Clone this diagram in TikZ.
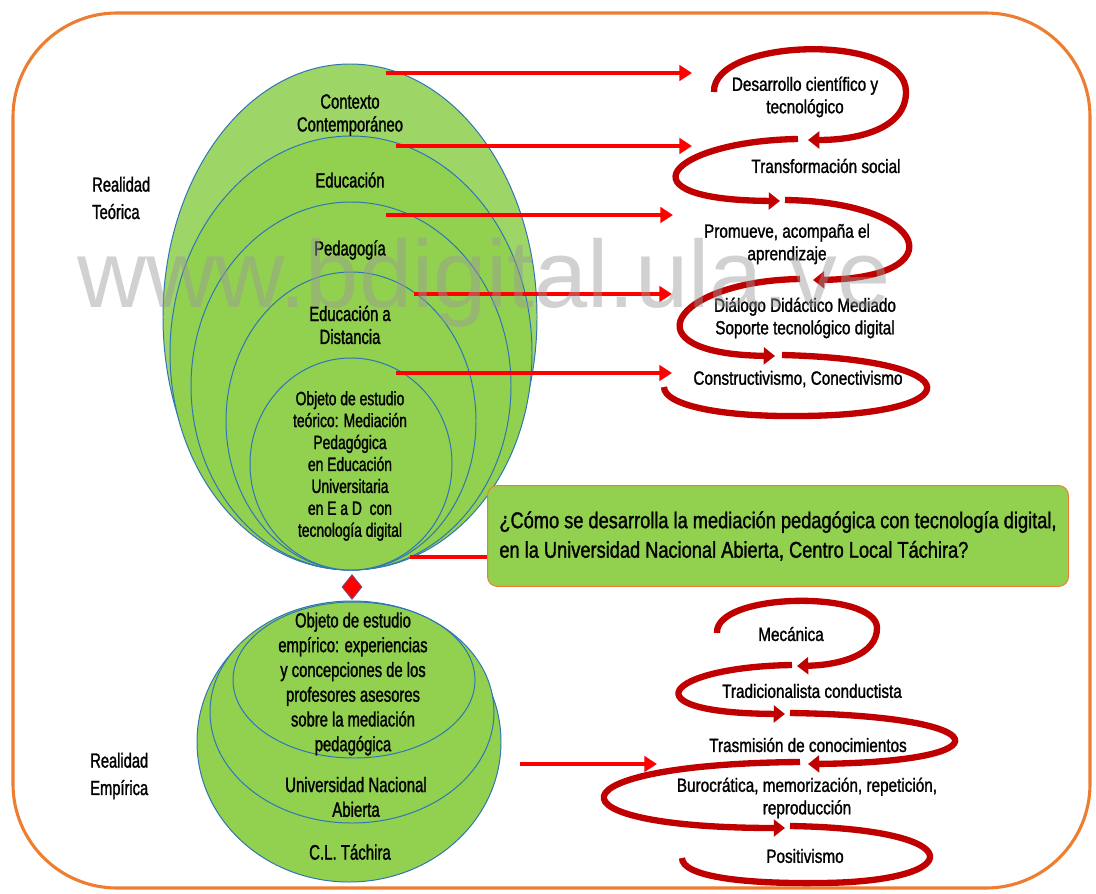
\documentclass[tikz,border=0pt]{standalone}
\usepackage{fontspec}
\setmainfont{Liberation Sans}[FakeStretch=0.72, FakeBold=1.3]
\newfontfamily\coilfont{Liberation Sans}[FakeStretch=0.8, FakeBold=1.3]
\newfontfamily\markfont{Liberation Sans}
\usetikzlibrary{arrows.meta}
\usetikzlibrary{shapes.geometric}

\definecolor{leafgreen}{HTML}{92D050}
\definecolor{paleleaf}{HTML}{9DD567}
\definecolor{ringblue}{HTML}{2E75B6}
\definecolor{frameorange}{HTML}{ED7D31}
\definecolor{spiralred}{HTML}{C00000}

\begin{document}
\begin{tikzpicture}[x=0.025cm, y=-0.025cm,
  ring/.style={fill=leafgreen, draw=ringblue, line width=0.7pt},
  txt/.style={align=center, inner sep=0pt, font=\fontsize{14.6}{16.3}\selectfont},
  coiltxt/.style={align=center, inner sep=0pt, font=\coilfont\fontsize{13.6}{16}\selectfont},
  side/.style={align=left, anchor=west, inner sep=0pt, font=\fontsize{14.5}{19.5}\selectfont},
  link/.style={draw=red, line width=2.8pt, -{Triangle[length=9pt, width=11pt]}},
  coil/.style={draw=spiralred, line width=4.5pt, -{Triangle[length=8pt, width=12pt]}},
  coilend/.style={draw=spiralred, line width=4.5pt},
]
\useasboundingbox (0,0) rectangle (1096,893);

% frame
\draw[frameorange, line width=2.2pt, rounded corners=2.6cm] (13,13) rectangle (1090,888);

% realidad teorica
\draw[ring, fill=paleleaf] (350,317) ellipse [x radius=187, y radius=253];
\draw[ring] (351,353) ellipse [x radius=181, y radius=217];
\draw[ring] (351,386) ellipse [x radius=160, y radius=184];
\draw[ring] (351,421) ellipse [x radius=125, y radius=149];
\draw[ring] (351,464) ellipse [x radius=101, y radius=106];

\node[txt] (ctx) at (350,115) {Contexto\\Contemporáneo};
\node[txt] (edu) at (350,180) {Educación};
\node[txt] (ped) at (350,250) {Pedagogía};
\node[txt] (ead) at (350,325) {Educación a\\Distancia};
\node[txt, font=\fontsize{13.7}{15.6}\selectfont] (obt) at (350,466) {Objeto de estudio\\teórico: Mediación\\Pedagógica\\en Educación\\Universitaria\\en E a D~~con\\tecnología digital};

\node[side] (rt) at (92,198) {Realidad\\Teórica};
\node[side] (re) at (90,776) {Realidad\\Empírica};

% realidad empirica
\draw[ring] (349,742) ellipse [x radius=152, y radius=140];
\draw[ring] (352,712) ellipse [x radius=142, y radius=111];
\draw[ring] (354,680) ellipse [x radius=121, y radius=78];

\node[txt, font=\fontsize{14.6}{17.6}\selectfont] (obe) at (353,684) {Objeto de estudio\\empírico: experiencias\\y concepciones de los\\profesores asesores\\sobre la mediación\\pedagógica};
\node[txt, font=\fontsize{14.8}{17.6}\selectfont] (una) at (356,797) {Universidad Nacional\\Abierta};
\node[txt, font=\fontsize{14.8}{17.6}\selectfont] (clt) at (350,852) {C.L. Táchira};

\node[diamond, fill=red, draw=ringblue!70!red, line width=0.6pt, minimum width=0.5cm, minimum height=0.62cm, inner sep=0pt] (dia) at (352,587) {};

% pregunta
\node[rounded corners=7pt, fill=leafgreen, draw=frameorange, line width=0.7pt, minimum width=14.52cm, minimum height=2.52cm, align=left, font=\coilfont\fontsize{16.2}{21}\selectfont] (ask) at (778,536) {¿Cómo se desarrolla la mediación pedagógica con tecnología digital,\\en la Universidad Nacional Abierta, Centro Local Táchira?};
\coordinate (q0) at (410,557);
\draw[red, line width=2.2pt] (q0) -- (q0 -| ask.west);

% flechas
\coordinate (a1) at (386,73);  \coordinate (b1) at (692,73);
\coordinate (a2) at (396,146); \coordinate (b2) at (692,146);
\coordinate (a3) at (386,215); \coordinate (b3) at (673,215);
\coordinate (a4) at (414,294); \coordinate (b4) at (672,294);
\coordinate (a5) at (396,373); \coordinate (b5) at (672,373);
\coordinate (a6) at (520,764); \coordinate (b6) at (657,764);
\draw[link] (a1) -- (b1);
\draw[link] (a2) -- (b2);
\draw[link] (a3) -- (b3);
\draw[link] (a4) -- (b4);
\draw[link] (a5) -- (b5);
\draw[link] (a6) -- (b6);

% espiral superior
\draw[coil] (714,92) .. controls (712,38) and (906,32) .. (906,92) .. controls (906,128) and (860,140) .. (808,140);
\draw[coil] (798,139) .. controls (670,141) and (615,200) .. (780,201);
\draw[coil] (785,200) .. controls (930,202) and (955,278) .. (813,280);
\draw[coil] (800,279) .. controls (672,281) and (625,354) .. (775,356);
\draw[coilend] (782,355) .. controls (975,360) and (970,415) .. (800,416) .. controls (720,417) and (664,405) .. (664,387);

\node[coiltxt] (s1) at (805,97) {Desarrollo científico y\\tecnológico};
\node[coiltxt] (s2) at (826,166) {Transformación social};
\node[coiltxt] (s3) at (787,244) {Promueve, acompaña el\\aprendizaje};
\node[coiltxt] (s4) at (805,318) {Diálogo Didáctico Mediado\\Soporte tecnológico digital};
\node[coiltxt] (s5) at (798,379) {Constructivismo, Conectivismo};

% espiral inferior
\draw[coil] (717,633) .. controls (715,592) and (877,590) .. (877,628) .. controls (877,655) and (840,665) .. (797,666);
\draw[coil] (792,665) .. controls (665,667) and (625,713) .. (785,714);
\draw[coil] (790,713) .. controls (1000,716) and (1010,762) .. (808,764);
\draw[coil] (800,762) .. controls (548,764) and (538,828) .. (785,828);
\draw[coilend] (790,826) .. controls (975,829) and (968,882) .. (820,883) .. controls (740,884) and (682,876) .. (682,858);

\node[coiltxt] (m1) at (791,634) {Mecánica};
\node[coiltxt] (m2) at (812,691) {Tradicionalista conductista};
\node[coiltxt] (m3) at (808,745) {Trasmisión de conocimientos};
\node[coiltxt] (m4) at (807,798) {Burocrática, memorización, repetición,\\reproducción};
\node[coiltxt] (m5) at (805,856) {Positivismo};

% marca de agua
\node[anchor=base, inner sep=0pt, text=black!40, text opacity=0.45, font=\markfont\fontsize{68}{68}\selectfont] (mark) at (484,307) {www.bdigital.ula.ve};
\end{tikzpicture}
\end{document}
